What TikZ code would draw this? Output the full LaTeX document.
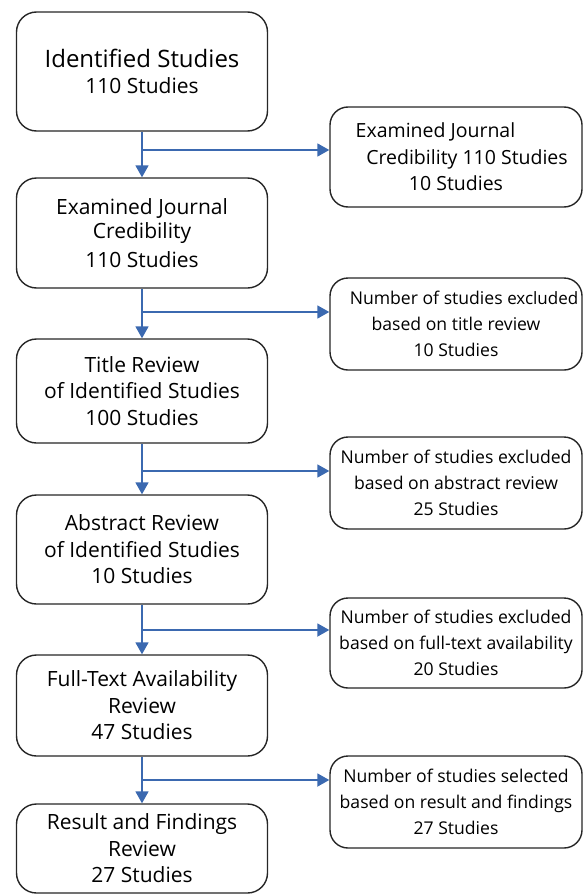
\documentclass[tikz,border=0pt]{standalone}
\usepackage{fontspec}
\setmainfont{Open Sans}
\usepackage{xcolor}
\usetikzlibrary{arrows.meta, positioning, calc}

\definecolor{flowblue}{HTML}{3B69B0}

\tikzset{
    stage/.style={draw=black!85, line width=1.4pt, rounded corners=20pt, fill=white,
        minimum width=251pt, align=center, inner sep=2pt,
        font=\fontsize{21}{26.5}\selectfont},
    note/.style={draw=black!85, line width=1.4pt, rounded corners=18pt, fill=white,
        minimum width=252pt, align=center, inner sep=1pt,
        font=\fontsize{17.6}{26}\selectfont},
    flow/.style={draw=flowblue, line width=1.8pt, -{Triangle[length=12pt, width=13pt]}}
}

\begin{document}
\begin{tikzpicture}[x=1pt, y=-1pt]
    \useasboundingbox (0,0) rectangle (588,894);

    % Main stages
    \node[stage, minimum height=119pt] (ident) at (142,71.5)
        {{\fontsize{24}{32}\selectfont Identified Studies}\\110 Studies};
    \node[stage, minimum height=110pt] (journal) at (142,233)
        {Examined Journal\\[-2pt]Credibility\\[2pt]110 Studies};
    \node[stage, minimum height=104pt] (title) at (142,391)
        {Title Review\\of Identified Studies\\100 Studies};
    \node[stage, minimum height=109pt] (abstract) at (142,549.5)
        {Abstract Review\\of Identified Studies\\10 Studies};
    \node[stage, minimum height=101pt] (fulltext) at (142,705.5)
        {Full-Text Availability\\Review\\47 Studies};
    \node[stage, minimum height=89pt] (result) at (142,848.5)
        {Result and Findings\\Review\\27 Studies};

    % Side notes
    \node[note, minimum height=100pt, font=\fontsize{19.5}{26.5}\selectfont] (njournal) at (456,157)
        {\hspace*{-41pt}Examined Journal\\\hspace*{22pt}Credibility 110 Studies\\10 Studies};
    \node[note, minimum height=92pt] (ntitle) at (456,324)
        {\hspace*{16pt}Number of studies {\fontsize{17}{26}\selectfont excluded}\\based on title review\\10 Studies};
    \node[note, minimum height=92pt] (nabstract) at (456,483)
        {Number of studies excluded\\based on abstract review\\25 Studies};
    \node[note, minimum height=90pt] (nfulltext) at (456,643)
        {Number of studies excluded\\based on full-text availability\\20 Studies};
    \node[note, minimum height=92pt] (nresult) at (456,802)
        {Number of studies selected\\based on result and findings\\27 Studies};

    % Branch points
    \coordinate (b1) at (142,150);
    \coordinate (b2) at (142,312);
    \coordinate (b3) at (142,471);
    \coordinate (b4) at (142,630);
    \coordinate (b5) at (142,780);

    % Arrows
    \draw[flow] (ident) -- (journal);
    \draw[flow] (journal) -- (title);
    \draw[flow] (title) -- (abstract);
    \draw[flow] (abstract) -- (fulltext);
    \draw[flow] (fulltext) -- (result);
    \draw[flow] (b1) -- (b1 -| njournal.west);
    \draw[flow] (b2) -- (b2 -| ntitle.west);
    \draw[flow] (b3) -- (b3 -| nabstract.west);
    \draw[flow] (b4) -- (b4 -| nfulltext.west);
    \draw[flow] (b5) -- (b5 -| nresult.west);
\end{tikzpicture}
\end{document}
